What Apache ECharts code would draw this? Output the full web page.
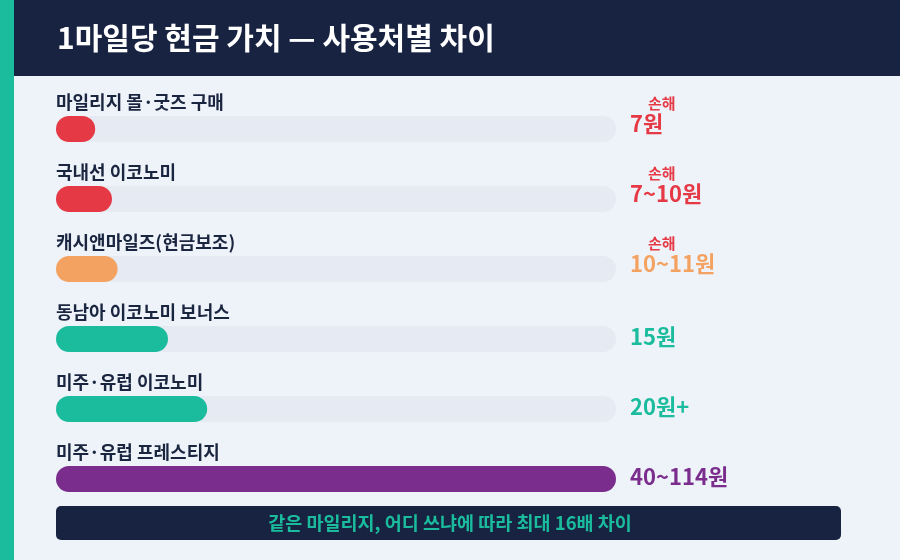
<!DOCTYPE html>
<html>
<head>
<meta charset="utf-8">
<script src="https://cdn.jsdelivr.net/npm/echarts@6/dist/echarts.min.js"></script>
<style>
  html, body { margin: 0; padding: 0; background: #eef3f9; }
  #chart { width: 900px; height: 560px; }
</style>
</head>
<body>
<div id="chart"></div>
<script>
'use strict';
// 사용처별 1마일 가치
var categories = ['마일리지 몰·굿즈 구매', '국내선 이코노미', '캐시앤마일즈(현금보조)', '동남아 이코노미 보너스', '미주·유럽 이코노미', '미주·유럽 프레스티지'];
var barValues = [7, 10, 11, 20, 27, 100];
var trackValues = [100, 100, 100, 100, 100, 100];
var valueLabels = ['7원', '7~10원', '10~11원', '15원', '20원+', '40~114원'];
var lossFlags = [true, true, true, false, false, false];
var barColors = ['#e63946', '#e63946', '#f4a261', '#1bbc9e', '#1bbc9e', '#7b2d8e'];

var navy = '#172340';
var teal = '#1bbc9e';
var font = '"Noto Sans CJK KR", "Noto Sans", sans-serif';

var rich = {
  loss: { fontSize: 15, fontWeight: 'bold', color: '#e63946', fontFamily: font, lineHeight: 18, padding: [0, 0, 0, 18] },
  sp: { fontSize: 10, lineHeight: 24 }
};
barColors.forEach(function (c, i) {
  rich['v' + i] = { fontSize: 22, fontWeight: 'bold', color: c, fontFamily: font, lineHeight: 24 };
});

var myChart = echarts.init(document.getElementById('chart'));
myChart.setOption({
  backgroundColor: '#eef3f9',
  animation: false,
  title: {
    text: '1마일당 현금 가치 — 사용처별 차이',
    left: 57,
    top: 23,
    padding: 0,
    textStyle: { color: '#ffffff', fontSize: 30, fontWeight: 'bold', fontFamily: font }
  },
  graphic: [
    { type: 'rect', shape: { x: 0, y: 0, width: 14, height: 560 }, style: { fill: teal } },
    { type: 'rect', shape: { x: 14, y: 0, width: 886, height: 76 }, style: { fill: navy } },
    { type: 'rect', shape: { x: 56, y: 506, width: 785, height: 34, r: 5 }, style: { fill: navy } },
    {
      type: 'text', x: 450, y: 523,
      style: {
        text: '같은 마일리지, 어디 쓰냐에 따라 최대 16배 차이',
        fill: teal, font: 'bold 18.5px ' + font,
        textAlign: 'center', textVerticalAlign: 'middle'
      }
    }
  ],
  grid: { left: 56, right: 284, top: 94, bottom: 46 },
  xAxis: { type: 'value', min: 0, max: 100, show: false },
  yAxis: { type: 'category', data: categories, inverse: true, show: false },
  series: [
    {
      type: 'bar',
      data: trackValues,
      barWidth: 26,
      silent: true,
      itemStyle: { color: '#e6ebf3', borderRadius: 13 },
      label: {
        show: true,
        position: 'right',
        distance: 14,
        offset: [0, -2],
        formatter: function (p) {
          var i = p.dataIndex;
          if (lossFlags[i]) {
            return '{loss|손해}\n{v' + i + '|' + valueLabels[i] + '}\n{sp| }';
          }
          return '{v' + i + '|' + valueLabels[i] + '}';
        },
        rich: rich
      }
    },
    {
      type: 'bar',
      data: barValues.map(function (v, i) {
        return { value: v, itemStyle: { color: barColors[i] } };
      }),
      barWidth: 26,
      barGap: '-100%',
      itemStyle: { borderRadius: 13 },
      label: {
        show: true,
        position: [0, -14],
        align: 'left',
        verticalAlign: 'middle',
        formatter: function (p) { return categories[p.dataIndex]; },
        color: '#1a2540',
        fontSize: 18,
        fontWeight: 'bold',
        fontFamily: font
      }
    }
  ]
});
</script>
</body>
</html>
